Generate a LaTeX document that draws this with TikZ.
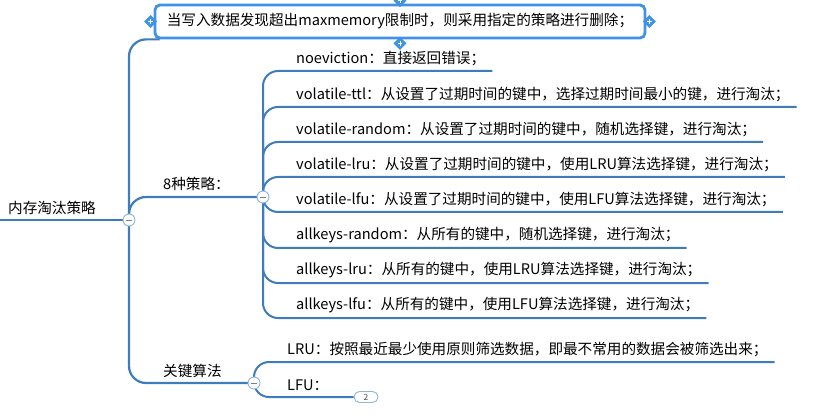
\documentclass[tikz,border=0pt]{standalone}
\usepackage{fontspec}
\setmainfont{Noto Sans CJK SC}
\usetikzlibrary{shapes.geometric, shapes.misc, positioning, calc}
\definecolor{mapblue}{RGB}{62,124,190}
\definecolor{boxblue}{RGB}{64,146,228}
\definecolor{knobline}{RGB}{140,182,224}
\tikzset{
  topic/.style={anchor=west, inner sep=0pt, font=\fontsize{14.6}{17}\selectfont},
  branch/.style={draw=mapblue, line width=2.2pt, rounded corners=17pt},
  leaf/.style={draw=mapblue, line width=2pt, rounded corners=15pt},
  notebox/.style={rectangle, draw=boxblue, line width=2.8pt, fill=white,
                  rounded corners=5pt, minimum width=490pt, minimum height=33pt,
                  font=\fontsize{14.6}{17}\selectfont},
  knob/.style={circle, draw=knobline, fill=white, line width=0.9pt,
               minimum size=12pt, inner sep=0pt,
               path picture={\draw[gray, line width=0.9pt]
                 ([xshift=-3pt]path picture bounding box.center) --
                 ([xshift=3pt]path picture bounding box.center);}},
  handle/.style={diamond, fill=boxblue, minimum size=13pt, inner sep=0pt,
                 path picture={\draw[white, line width=1pt]
                   ([xshift=-2.2pt]path picture bounding box.center) --
                   ([xshift=2.2pt]path picture bounding box.center)
                   ([yshift=-2.2pt]path picture bounding box.center) --
                   ([yshift=2.2pt]path picture bounding box.center);}},
  count/.style={rounded rectangle, draw=knobline, fill=white, line width=0.9pt,
                minimum width=24pt, minimum height=11pt, inner sep=0pt,
                font=\fontsize{8.5}{8.5}\selectfont, text=black!70}
}
\begin{document}
\begin{tikzpicture}[x=1pt, y=-1pt]
  \useasboundingbox (0,0) rectangle (839,417);

  % root and first level
  \node[topic] (root) at (8,208) {内存淘汰策略};
  \coordinate (rootstart) at (0,220);
  \coordinate (hub) at (129,220);
  \node[notebox] (note) at (400,21.5) {当写入数据发现超出maxmemory限制时，则采用指定的策略进行删除；};
  \node[topic] (plan) at (163,184) {8种策略：};
  \coordinate (planhub) at (263,197);
  \node[topic] (algo) at (163,371) {关键算法};
  \coordinate (algohub) at (254,383);

  \draw[branch] (rootstart) -- (hub);
  \draw[branch] (hub) |- ([xshift=6pt]note.south west);
  \draw[branch] (hub) |- (planhub);
  \draw[branch] (hub) |- (algohub);

  % the 8 policies
  \foreach \y/\t [count=\i] in {
      71/{noeviction：直接返回错误；},
      107/{volatile-ttl：从设置了过期时间的键中，选择过期时间最小的键，进行淘汰；},
      142/{volatile-random：从设置了过期时间的键中，随机选择键，进行淘汰；},
      177/{volatile-lru：从设置了过期时间的键中，使用LRU算法选择键，进行淘汰；},
      212/{volatile-lfu：从设置了过期时间的键中，使用LFU算法选择键，进行淘汰；},
      248/{allkeys-random：从所有的键中，随机选择键，进行淘汰；},
      283/{allkeys-lru：从所有的键中，使用LRU算法选择键，进行淘汰；},
      318/{allkeys-lfu：从所有的键中，使用LFU算法选择键，进行淘汰；}} {
    \node[topic] (p\i) at (296,\y-12.5) {\t};
    \coordinate (pe\i) at ($(p\i.east)+(7,12.5)$);
    \draw[leaf] (planhub) |- (pe\i);
  }

  % key algorithms
  \node[topic] (lru) at (287,350) {LRU：按照最近最少使用原则筛选数据，即最不常用的数据会被筛选出来；};
  \coordinate (lrue) at ($(lru.east)+(7,12)$);
  \node[topic] (lfu) at (287,385) {LFU：};
  \node[count] (lfun) at (366,397) {2};
  \draw[leaf] (algohub) |- (lrue);
  \draw[leaf] (algohub) |- (lfun.west);

  % handles round the selected note
  \node[handle] (hl) at ([xshift=-3pt]note.west) {};
  \node[handle] (hr) at ([xshift=3pt]note.east) {};
  \node[handle] (ht) at ([yshift=3pt]note.north) {};
  \node[handle] (hb) at ([yshift=-4pt]note.south) {};

  \node[knob] (k1) at (hub) {};
  \node[knob] (k2) at (planhub) {};
  \node[knob] (k3) at (algohub) {};
\end{tikzpicture}
\end{document}
